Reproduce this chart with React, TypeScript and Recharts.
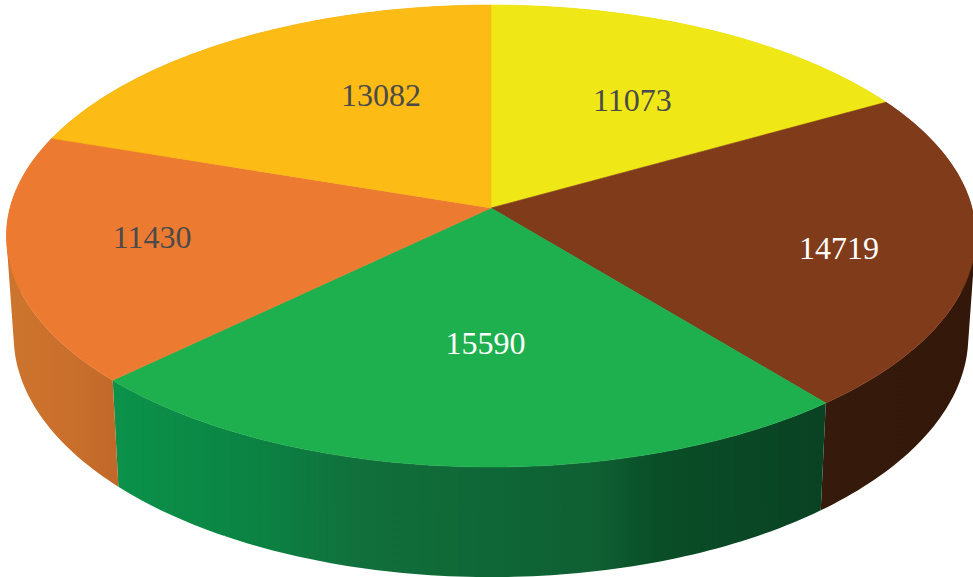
import React from 'react';
import { PieChart, Pie } from 'recharts';

const categories = ['A', 'B', 'C', 'D', 'E'];
const values = [11073, 14719, 15590, 11430, 13082];
const topColors = ['#f0e716', '#7f3b1a', '#1eaf4e', '#ec7b31', '#fcbb15'];
const labelColors = ['#4a4a4a', '#ffffff', '#ffffff', '#4a4a4a', '#4a4a4a'];

// where each label sits, as a share of the radius and a nudge from the mid angle
const labelRadius = [0.591, 0.729, 0.553, 0.705, 0.581];
const labelShift = [-1.6, -2.9, 2.4, -2.4, -11];

const topData = categories.map((name, i) => ({ name, value: values[i], fill: topColors[i] }));
const wallData = categories.map((name, i) => ({ name, value: values[i], fill: `url(#wall${i})` }));

// perspective of the disc: the unit circle seen from above
const TILT = -0.1212;
const DEPTH_Y = 202.4;
const WIDTH_X = 481;

type Pt = { x: number; y: number };

const project = (cx: number, cy: number, angle: number, r = 1): Pt => {
  const rad = (angle * Math.PI) / 180;
  const u = r * Math.cos(rad);
  const v = -r * Math.sin(rad);
  const w = 1 + TILT * v;
  return { x: cx + (WIDTH_X * u) / w, y: (DEPTH_Y * v + cy) / w };
};

const dropDown = (p: Pt, cx: number): Pt => ({
  x: cx + (p.x - cx) * 0.985,
  y: p.y + 90 + p.y * 0.043,
});

const arcPoints = (cx: number, cy: number, start: number, end: number) => {
  const steps = Math.max(2, Math.ceil(Math.abs(end - start)));
  const pts: Pt[] = [];
  for (let i = 0; i <= steps; i++) {
    pts.push(project(cx, cy, start + ((end - start) * i) / steps));
  }
  return pts;
};

const toPath = (pts: Pt[]) =>
  'M' + pts.map((p) => `${p.x.toFixed(2)},${p.y.toFixed(2)}`).join('L') + 'Z';

const signedArea = (pts: Pt[]) =>
  pts.reduce((sum, p, i) => {
    const q = pts[(i + 1) % pts.length];
    return sum + p.x * q.y - q.x * p.y;
  }, 0);

const TopSlice = (props: any) => {
  const { cx, cy, startAngle, endAngle, fill } = props;
  const pts = [{ x: cx, y: cy }, ...arcPoints(cx, cy, startAngle, endAngle)];
  return <path d={toPath(pts)} fill={fill} stroke={fill} strokeWidth={0.6} />;
};

// one quad per arc step, all wound the same way, so the outline follows the disc's silhouette
const WallSlice = (props: any) => {
  const { cx, cy, startAngle, endAngle, fill } = props;
  const top = arcPoints(cx, cy, startAngle, endAngle);
  const quads = top.slice(1).map((p, i) => {
    const quad = [top[i], p, dropDown(p, cx), dropDown(top[i], cx)];
    return toPath(signedArea(quad) < 0 ? quad.reverse() : quad);
  });
  return <path d={quads.join('')} fill={fill} />;
};

const renderLabel = (props: any) => {
  const { cx, cy, midAngle, index, value } = props;
  const p = project(cx, cy, midAngle + labelShift[index], labelRadius[index]);
  return (
    <text
      x={p.x}
      y={p.y}
      dy={11}
      textAnchor="middle"
      fill={labelColors[index]}
      fontFamily="'Liberation Serif', serif"
      fontSize={32}
    >
      {value}
    </text>
  );
};

export default function App() {
  return (
    <div style={{ position: 'absolute', left: 0, top: 0, width: 973, height: 577, background: '#fff', overflow: 'hidden' }}>
      <PieChart width={973} height={577} margin={{ top: 0, right: 0, bottom: 0, left: 0 }}>
        <defs>
          <linearGradient id="wall0" gradientUnits="userSpaceOnUse" x1="0" x2="973" y1="0" y2="0">
            <stop offset="0" stopColor="#c9c010" />
            <stop offset="1" stopColor="#c9c010" />
          </linearGradient>
          <linearGradient id="wall1" gradientUnits="userSpaceOnUse" x1="820" x2="973" y1="0" y2="0">
            <stop offset="0" stopColor="#361a0b" />
            <stop offset="1" stopColor="#331809" />
          </linearGradient>
          <linearGradient id="wall2" gradientUnits="userSpaceOnUse" x1="112" x2="827" y1="0" y2="0">
            <stop offset="0" stopColor="#0b924a" />
            <stop offset="0.2" stopColor="#0b8343" />
            <stop offset="0.34" stopColor="#11703c" />
            <stop offset="0.5" stopColor="#0f6837" />
            <stop offset="0.68" stopColor="#0f5f33" />
            <stop offset="0.76" stopColor="#0a4e27" />
            <stop offset="1" stopColor="#094223" />
          </linearGradient>
          <linearGradient id="wall3" gradientUnits="userSpaceOnUse" x1="7" x2="118" y1="0" y2="0">
            <stop offset="0" stopColor="#cd742d" />
            <stop offset="0.6" stopColor="#c96f2c" />
            <stop offset="1" stopColor="#c06829" />
          </linearGradient>
          <linearGradient id="wall4" gradientUnits="userSpaceOnUse" x1="0" x2="973" y1="0" y2="0">
            <stop offset="0" stopColor="#d09a10" />
            <stop offset="1" stopColor="#d09a10" />
          </linearGradient>
        </defs>
        <Pie
          data={wallData}
          dataKey="value"
          cx={491}
          cy={208}
          outerRadius={200}
          startAngle={90}
          endAngle={-270}
          stroke="none"
          shape={WallSlice}
          isAnimationActive={false}
        />
        <Pie
          data={topData}
          dataKey="value"
          cx={491}
          cy={208}
          outerRadius={200}
          startAngle={90}
          endAngle={-270}
          stroke="none"
          shape={TopSlice}
          label={renderLabel}
          labelLine={false}
          isAnimationActive={false}
        />
      </PieChart>
    </div>
  );
}
